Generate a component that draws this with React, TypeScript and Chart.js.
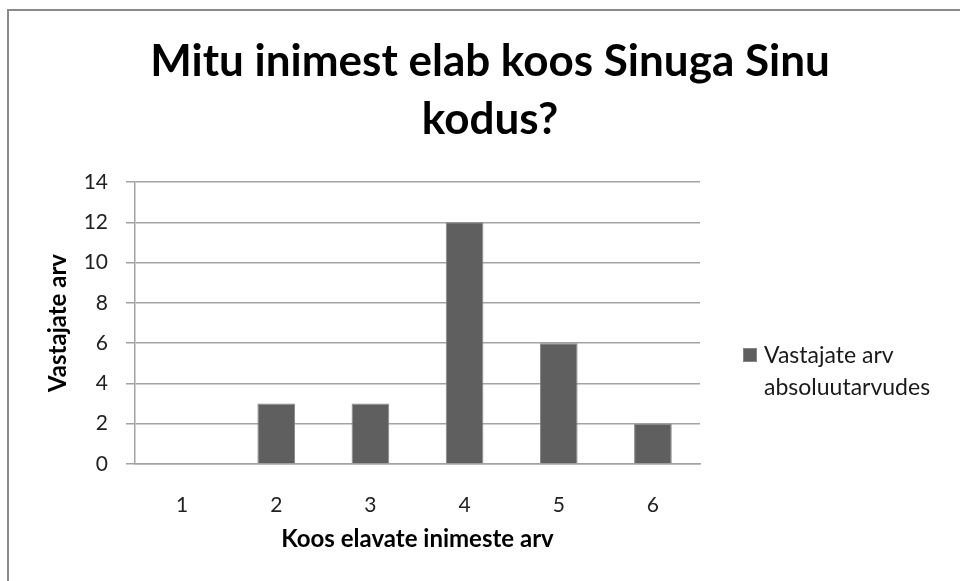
import React, { useEffect, useRef } from "react";
import { Chart, registerables } from "chart.js";

Chart.register(...registerables);

const titleLines = ["Mitu inimest elab koos Sinuga Sinu", "kodus?"];
const categories = ["1", "2", "3", "4", "5", "6"];
const seriesName = "Vastajate arv absoluutarvudes";
const legendLines = ["Vastajate arv", "absoluutarvudes"];
const values = [0, 3, 3, 12, 6, 2];
const yTitle = "Vastajate arv";
const xTitle = "Koos elavate inimeste arv";
const yMin = 0;
const yMax = 14;
const yStep = 2;

const FONT = "Lato, 'Open Sans', sans-serif";
const BAR_FILL = "#5f5f5f";
const BAR_EDGE = "#858585";
const GRID = "#a3a3a3";

const framePlugin = {
  id: "frame",
  beforeDraw(chart: any) {
    const ctx = chart.ctx;
    ctx.save();
    ctx.fillStyle = "#ffffff";
    ctx.fillRect(0, 0, chart.width, chart.height);
    ctx.strokeStyle = "#8a8a8a";
    ctx.lineWidth = 2;
    ctx.beginPath();
    ctx.moveTo(chart.width + 5, 10);
    ctx.lineTo(8, 10);
    ctx.lineTo(8, chart.height + 5);
    ctx.stroke();
    ctx.restore();
  },
};

const legendPlugin = {
  id: "sideLegend",
  afterDraw(chart: any) {
    const ctx = chart.ctx;
    const area = chart.chartArea;
    const boxX = area.right + 43;
    const boxY = area.top + 166;
    ctx.save();
    ctx.fillStyle = BAR_FILL;
    ctx.fillRect(boxX, boxY, 14, 14);
    ctx.strokeStyle = BAR_EDGE;
    ctx.lineWidth = 1;
    ctx.strokeRect(boxX + 0.5, boxY + 0.5, 13, 13);
    ctx.fillStyle = "#1a1a1a";
    ctx.font = `23px ${FONT}`;
    ctx.textAlign = "left";
    ctx.textBaseline = "alphabetic";
    legendLines.forEach((line, i) => {
      ctx.fillText(line, boxX + 21, boxY + 15 + i * 32);
    });
    ctx.restore();
  },
};

export default function App() {
  const canvasRef = useRef<HTMLCanvasElement | null>(null);

  useEffect(() => {
    const canvas = canvasRef.current;
    if (!canvas) return;
    const chart = new Chart(canvas, {
      type: "bar",
      data: {
        labels: categories,
        datasets: [
          {
            label: seriesName,
            data: values,
            yAxisID: "y",
            backgroundColor: BAR_FILL,
            borderColor: BAR_EDGE,
            borderWidth: 1,
            barPercentage: 0.4,
            categoryPercentage: 1,
          },
        ],
      },
      options: {
        responsive: false,
        animation: false,
        devicePixelRatio: 1,
        layout: { padding: { left: 20, right: 0, top: 10, bottom: 0 } },
        plugins: {
          legend: { display: false },
          tooltip: { enabled: false },
          title: {
            display: true,
            text: titleLines,
            color: "#000000",
            font: { family: FONT, size: 44, weight: "bold", lineHeight: "58px" },
            padding: { top: 23, bottom: 33 },
          },
        },
        scales: {
          x: {
            grid: { display: false },
            border: { display: true, color: GRID, width: 1.5 },
            ticks: {
              color: "#222222",
              font: { family: FONT, size: 21 },
              padding: 21,
            },
            title: {
              display: true,
              text: xTitle,
              color: "#000000",
              font: { family: FONT, size: 24, weight: "bold" },
              padding: { top: 0, bottom: 27 },
            },
            afterFit: (scale: any) => {
              scale.height = 117;
            },
          },
          y: {
            min: yMin,
            max: yMax,
            ticks: {
              stepSize: yStep,
              color: "#222222",
              font: { family: FONT, size: 21 },
              padding: 18,
            },
            grid: {
              color: GRID,
              lineWidth: 1.5,
              tickLength: 9,
              drawTicks: true,
            },
            border: { display: true, color: GRID, width: 1.5 },
            title: {
              display: true,
              text: yTitle,
              color: "#000000",
              font: { family: FONT, size: 24, weight: "bold" },
              padding: { top: 24, bottom: 0 },
            },
            afterFit: (scale: any) => {
              scale.width = 115;
            },
          },
          legendSpace: {
            type: "linear",
            position: "right",
            display: true,
            grid: { display: false, drawTicks: false },
            border: { display: false },
            ticks: { display: false },
            afterFit: (scale: any) => {
              scale.width = 260;
            },
          },
        },
      },
      plugins: [framePlugin, legendPlugin],
    });
    return () => chart.destroy();
  }, []);

  return (
    <div style={{ position: "fixed", left: 0, top: 0, width: 960, height: 581, background: "#fff" }}>
      <canvas ref={canvasRef} width={960} height={581} style={{ display: "block", width: 960, height: 581 }} />
    </div>
  );
}
